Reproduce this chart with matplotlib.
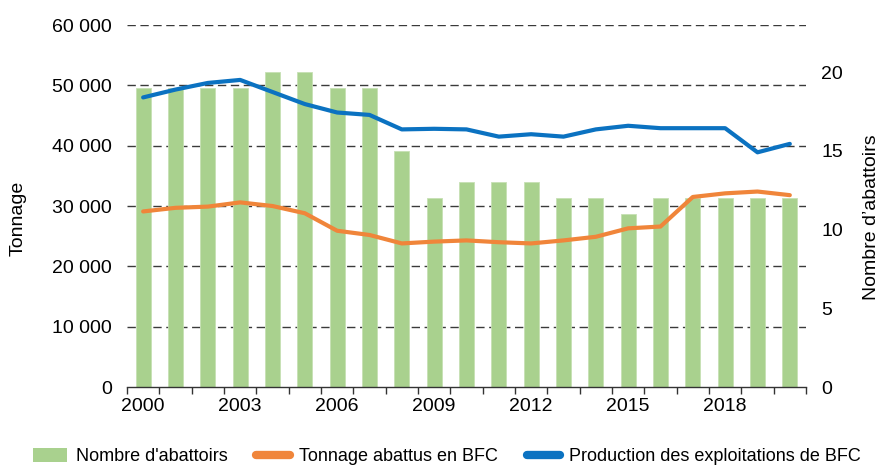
import matplotlib
matplotlib.use("Agg")
from matplotlib import pyplot as plt
from matplotlib import transforms
from matplotlib.lines import Line2D
from matplotlib.patches import Patch
from matplotlib.ticker import FuncFormatter, FixedLocator
import numpy as np

# Data
years = list(range(2000, 2021))
abattoirs = [19, 19, 19, 19, 20, 20, 19, 19, 15, 12, 13, 13, 13, 12, 12, 11, 12, 12, 12, 12, 12]
tonnage_bfc = [29100, 29700, 29900, 30600, 30000, 28800, 25900, 25200, 23800, 24100, 24300,
               24000, 23800, 24300, 24900, 26300, 26600, 31500, 32100, 32400, 31800]
production_bfc = [48000, 49300, 50400, 50900, 48900, 46900, 45500, 45100, 42700, 42800, 42700,
                  41500, 41900, 41500, 42700, 43300, 42900, 42900, 42900, 38900, 40300]
left_ticks = [0, 10000, 20000, 30000, 40000, 50000, 60000]
right_ticks = [0, 5, 10, 15, 20]
label_years = [2000, 2003, 2006, 2009, 2012, 2015, 2018]

green = "#A9D18E"
orange = "#F0853A"
blue = "#0B72C1"

plt.rcParams["font.family"] = ["Liberation Sans", "DejaVu Sans"]
plt.rcParams["font.size"] = 14

fig = plt.figure(figsize=(8.8, 4.66), dpi=100)
ax = fig.add_axes([0.1443, 0.1695, 0.7716, 0.7768])
ax2 = ax.twinx()

x = np.arange(len(years))

# bars on the primary axes (right scale), lines on the twin (left scale)
ax.bar(x, abattoirs, width=0.47, color=green, edgecolor="#C6E0B4", linewidth=0.6, zorder=3)
ax.set_ylim(0, 23)
ax.set_xlim(-0.5, len(years) - 0.5)
ax.yaxis.tick_right()
ax.yaxis.set_major_locator(FixedLocator(right_ticks))
ax.tick_params(axis="y", length=0, pad=11, labelsize=14)

ax2.plot(x, production_bfc, color=blue, lw=3, solid_capstyle="round", solid_joinstyle="round", zorder=3)
ax2.plot(x, tonnage_bfc, color=orange, lw=3, solid_capstyle="round", solid_joinstyle="round", zorder=3)
ax2.set_ylim(0, 60000)
ax2.yaxis.tick_left()
ax2.yaxis.set_major_locator(FixedLocator(left_ticks))
ax2.yaxis.set_major_formatter(FuncFormatter(lambda v, p: f"{v:,.0f}".replace(",", " ")))
ax2.tick_params(axis="y", length=0, pad=11, labelsize=14)

# dashed gridlines behind the bars, at the left-axis ticks
trans = transforms.blended_transform_factory(ax.transAxes, ax2.transData)
ax.hlines(left_ticks[1:], 0, 1, transform=trans, colors="#3A3A3A",
          linestyles=(0, (6, 3.3)), linewidth=1.0, zorder=0.5)

# x axis: labels under bars, tick marks between categories
ax.set_xticks([years.index(y) for y in label_years])
ax.set_xticklabels([str(y) for y in label_years])
ax.set_xticks(np.arange(-0.5, len(years)), minor=True)
ax.tick_params(axis="x", which="major", length=0, pad=8, labelsize=14)
ax.tick_params(axis="x", which="minor", length=5, width=1, color="#333333")

for a in (ax, ax2):
    for s in ("top", "left", "right", "bottom"):
        a.spines[s].set_visible(False)
ax.spines["bottom"].set_visible(True)
ax.spines["bottom"].set_color("#333333")
ax.spines["bottom"].set_linewidth(1)
ax.spines["bottom"].set_zorder(4)

fig.text(18 / 880, 1 - 218 / 466, "Tonnage", rotation=90, ha="center", va="center", fontsize=14)
fig.text(871 / 880, 1 - 217 / 466, "Nombre d\u2019abattoirs", rotation=90, ha="center", va="center", fontsize=14)

handles = [
    Patch(facecolor=green, edgecolor="none"),
    Line2D([], [], color=orange, lw=6, solid_capstyle="round"),
    Line2D([], [], color=blue, lw=6, solid_capstyle="round"),
]
labels = ["Nombre d'abattoirs", "Tonnage abattus en BFC", "Production des exploitations de BFC"]
fig.legend(handles, labels, loc="center", bbox_to_anchor=(0.508, 0.02), ncol=3, frameon=False,
           prop={"size": 13}, handlelength=1.85, handleheight=0.8,
           columnspacing=1.6, handletextpad=0.5, borderpad=0, borderaxespad=0)

fig.savefig("out.png", dpi=100)
